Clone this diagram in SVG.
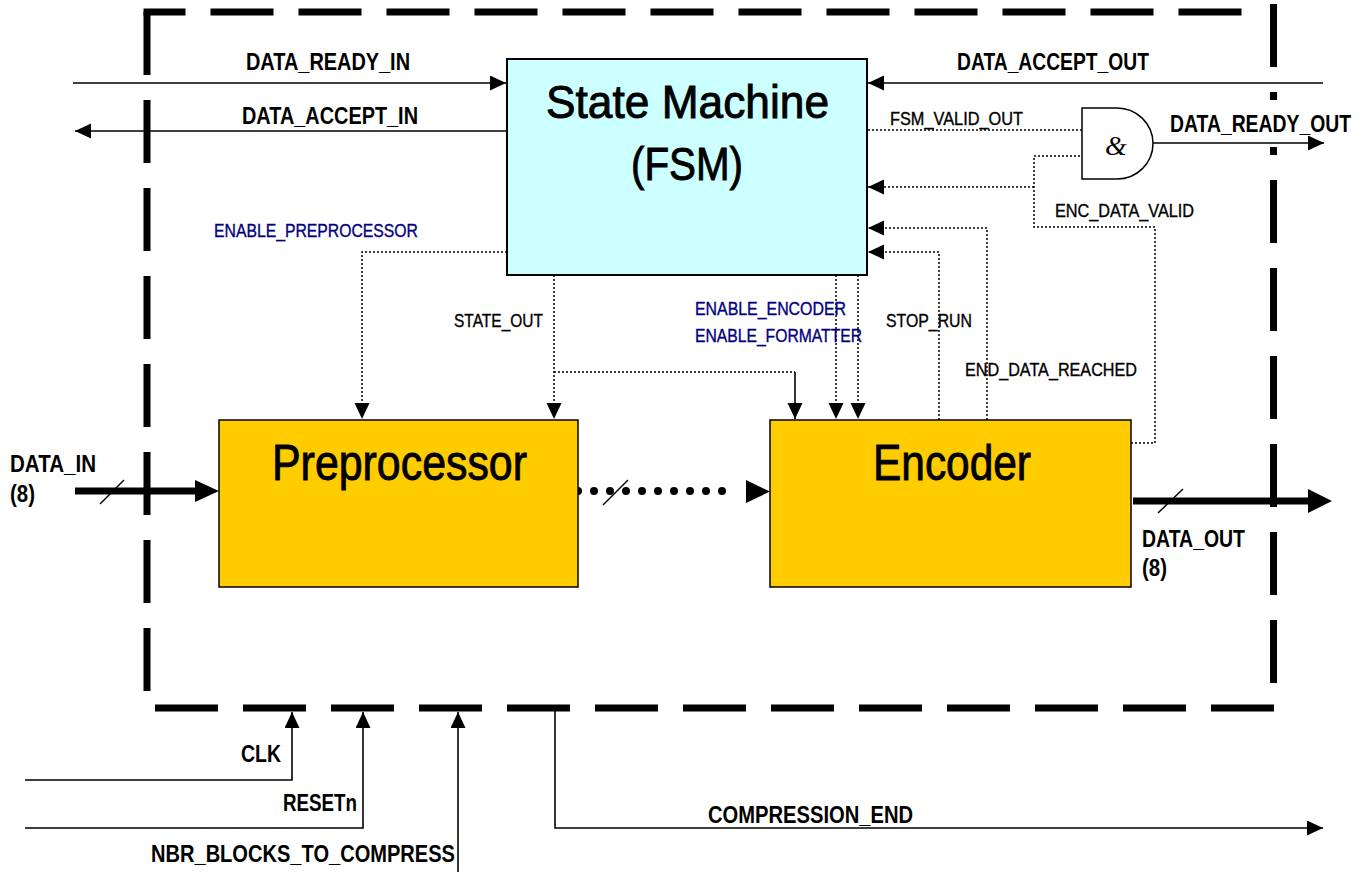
<svg xmlns="http://www.w3.org/2000/svg" width="1370" height="872" viewBox="0 0 1370 872">
<style>
.frame{stroke:#000;stroke-width:7;fill:none;stroke-dasharray:63 25}
.sig{stroke:#000;stroke-width:1.6;fill:none}
.dot{stroke:#000;stroke-width:1.5;fill:none;stroke-dasharray:2 2}
.lb{font-family:"Liberation Sans",Arial,sans-serif;font-weight:bold;font-size:23px;fill:#000}
.ls{font-family:"Liberation Sans",Arial,sans-serif;font-size:18px;fill:#000;stroke:#000;stroke-width:0.35}
.ln{font-family:"Liberation Sans",Arial,sans-serif;font-size:18px;fill:#000080;stroke:#000080;stroke-width:0.35}
.big{font-family:"Liberation Sans",Arial,sans-serif;font-size:46px;fill:#000;stroke:#000;stroke-width:0.9}
.blk{fill:#000;stroke:none}
</style>
<defs>
<marker id="ah" markerUnits="userSpaceOnUse" markerWidth="17" markerHeight="16" refX="16" refY="7.5" orient="auto">
<path d="M0,0 L16,7.5 L0,15 Z" fill="#000"/>
</marker>
</defs>

<g id="frame">
<line class="frame" x1="143.5" y1="12" x2="1242" y2="12" style="stroke-dashoffset:21"/>
<line class="frame" x1="147" y1="12" x2="147" y2="691"/>
<line class="frame" x1="155" y1="708" x2="1275" y2="708"/>
<line class="frame" x1="1273.5" y1="4" x2="1273.5" y2="100"/>
<line class="frame" x1="1273.5" y1="147" x2="1273.5" y2="683" style="stroke-dashoffset:55"/>
</g>

<g id="connectors">
<path class="sig" d="M73,83 H506" marker-end="url(#ah)"/>
<path class="sig" d="M507,131 H75" marker-end="url(#ah)"/>
<path class="sig" d="M1323,83 H868" marker-end="url(#ah)"/>
<path class="sig" d="M1153,143 H1324" marker-end="url(#ah)"/>
<path class="dot" d="M868,130 H1082"/>
<path class="dot" d="M1131,443 H1155 V227 H1034 V156 H1082"/>
<path class="dot" d="M1034,187 H868" marker-end="url(#ah)"/>
<path class="dot" d="M987,420 V228 H868" marker-end="url(#ah)"/>
<path class="dot" d="M939,420 V252 H868" marker-end="url(#ah)"/>
<path class="dot" d="M507,252 H362 V419" marker-end="url(#ah)"/>
<path class="dot" d="M554,275 V419" marker-end="url(#ah)"/>
<path class="dot" d="M554,372 H795"/>
<path class="sig" d="M795,372 V419" marker-end="url(#ah)"/>
<path class="dot" d="M836,275 V419" marker-end="url(#ah)"/>
<path class="dot" d="M858,275 V419" marker-end="url(#ah)"/>
<line x1="75" y1="491" x2="197" y2="491" stroke="#000" stroke-width="7"/>
<polygon class="blk" points="195,480 219,491 195,502"/>
<line x1="100" y1="504" x2="124" y2="480" stroke="#000" stroke-width="1.5"/>
<line x1="578" y1="491" x2="738" y2="491" stroke="#000" stroke-width="8" stroke-linecap="round" stroke-dasharray="0 16"/>
<polygon class="blk" points="746,480 770,491.5 746,503"/>
<line x1="603" y1="505" x2="628" y2="480" stroke="#000" stroke-width="1.5"/>
<line x1="1133" y1="501" x2="1310" y2="501" stroke="#000" stroke-width="7"/>
<polygon class="blk" points="1308,489 1332,501 1308,513"/>
<line x1="1158" y1="513" x2="1183" y2="489" stroke="#000" stroke-width="1.5"/>
<path class="sig" d="M25,780 H292 V712" marker-end="url(#ah)"/>
<path class="sig" d="M25,828 H363 V712" marker-end="url(#ah)"/>
<path class="sig" d="M458,872 V712" marker-end="url(#ah)"/>
<path class="sig" d="M555,708 V828 H1323" marker-end="url(#ah)"/>
</g>

<g id="fsm">
<rect x="507" y="59" width="360" height="216" fill="#CCFFFF" stroke="#000" stroke-width="2"/>
<text class="big" x="546" y="118" textLength="283" lengthAdjust="spacingAndGlyphs">State Machine</text>
<text class="big" x="631" y="180" textLength="112" lengthAdjust="spacingAndGlyphs">(FSM)</text>
</g>

<g id="preprocessor">
<rect x="219" y="420" width="359" height="167" fill="#FFCC00" stroke="#000" stroke-width="1.5"/>
<text class="big" x="272" y="480" style="font-size:50px" textLength="255" lengthAdjust="spacingAndGlyphs">Preprocessor</text>
</g>

<g id="encoder">
<rect x="770" y="420" width="361" height="167" fill="#FFCC00" stroke="#000" stroke-width="1.5"/>
<text class="big" x="873" y="480" style="font-size:50px" textLength="158" lengthAdjust="spacingAndGlyphs">Encoder</text>
</g>

<g id="and_gate">
<path d="M1082,108 H1117 A36,35.5 0 0 1 1117,179 H1082 Z" fill="#fff" stroke="#000" stroke-width="1.5"/>
<text x="1116" y="155" text-anchor="middle" font-family="Liberation Serif,serif" font-style="italic" font-size="28">&amp;</text>
</g>

<g id="labels">
<text class="lb" x="246" y="70" textLength="164" lengthAdjust="spacingAndGlyphs">DATA_READY_IN</text>
<text class="lb" x="242" y="124" textLength="176" lengthAdjust="spacingAndGlyphs">DATA_ACCEPT_IN</text>
<text class="lb" x="957" y="70" textLength="192" lengthAdjust="spacingAndGlyphs">DATA_ACCEPT_OUT</text>
<text class="lb" x="1170" y="132" textLength="181" lengthAdjust="spacingAndGlyphs">DATA_READY_OUT</text>
<text class="ls" x="890" y="125" textLength="133" lengthAdjust="spacingAndGlyphs">FSM_VALID_OUT</text>
<text class="ls" x="1055" y="217" textLength="139" lengthAdjust="spacingAndGlyphs">ENC_DATA_VALID</text>
<text class="ln" x="214" y="237" textLength="204" lengthAdjust="spacingAndGlyphs">ENABLE_PREPROCESSOR</text>
<text class="ls" x="454" y="327" textLength="89" lengthAdjust="spacingAndGlyphs">STATE_OUT</text>
<text class="ln" x="695" y="315" textLength="151" lengthAdjust="spacingAndGlyphs">ENABLE_ENCODER</text>
<text class="ln" x="695" y="342" textLength="167" lengthAdjust="spacingAndGlyphs">ENABLE_FORMATTER</text>
<text class="ls" x="886" y="327" textLength="86" lengthAdjust="spacingAndGlyphs">STOP_RUN</text>
<text class="ls" x="965" y="376" textLength="172" lengthAdjust="spacingAndGlyphs">END_DATA_REACHED</text>
<text class="lb" x="10" y="472" textLength="86" lengthAdjust="spacingAndGlyphs">DATA_IN</text>
<text class="lb" x="10" y="502" textLength="25" lengthAdjust="spacingAndGlyphs">(8)</text>
<text class="lb" x="1142" y="547" textLength="103" lengthAdjust="spacingAndGlyphs">DATA_OUT</text>
<text class="lb" x="1142" y="576" textLength="25" lengthAdjust="spacingAndGlyphs">(8)</text>
<text class="lb" x="241" y="762" textLength="40" lengthAdjust="spacingAndGlyphs">CLK</text>
<text class="lb" x="283" y="811" textLength="74" lengthAdjust="spacingAndGlyphs">RESETn</text>
<text class="lb" x="151" y="862" textLength="304" lengthAdjust="spacingAndGlyphs">NBR_BLOCKS_TO_COMPRESS</text>
<text class="lb" x="708" y="823" textLength="205" lengthAdjust="spacingAndGlyphs">COMPRESSION_END</text>
</g>
</svg>
